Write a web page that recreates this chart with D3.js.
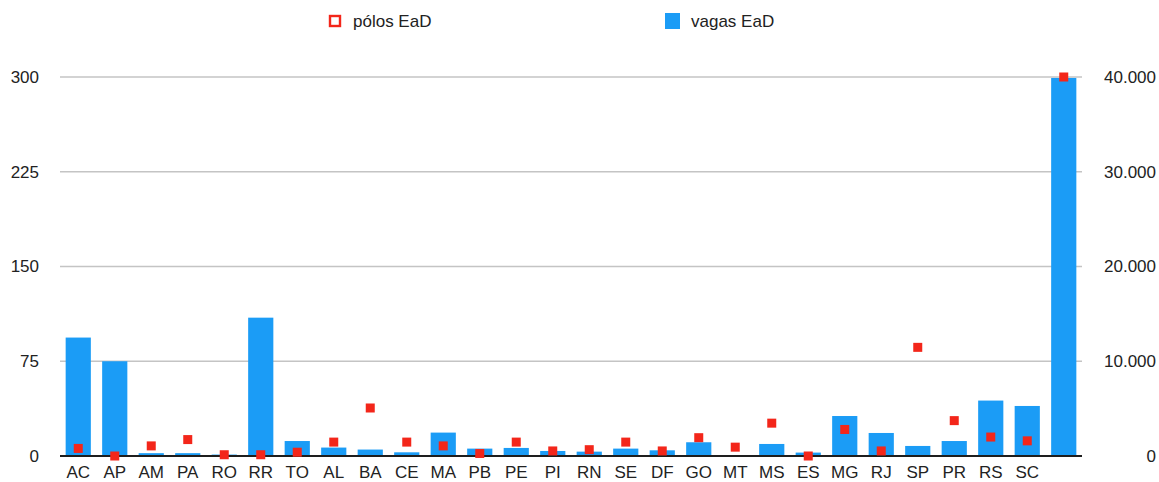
<!DOCTYPE html>
<html>
<head>
<meta charset="utf-8">
<script src="https://cdn.jsdelivr.net/npm/d3@7"></script>
<style>
  html, body { margin: 0; padding: 0; background: #fff; }
  svg { display: block; font-family: "Liberation Sans", Arial, Helvetica, sans-serif; }
</style>
</head>
<body>
<svg id="chart" width="1159" height="482"></svg>
<script>
// Estados (the last column is the national total, unlabelled)
const categories = ["AC","AP","AM","PA","RO","RR","TO","AL","BA","CE","MA","PB","PE","PI","RN","SE","DF","GO","MT","MS","ES","MG","RJ","SP","PR","RS","SC",""];
// vagas EaD (right axis)
const vagas = [12500,10000,300,300,150,14600,1580,890,680,390,2470,780,850,530,460,780,600,1450,0,1270,360,4220,2430,1060,1580,5850,5280,39900];
// pólos EaD (left axis)
const polos = [6,0,8,13,1,1,3,11,38,11,8,2,11,4,5,11,4,14.5,7,26,0,21,4,86,28,15,12,300];
const leftTicks = [0,75,150,225,300];
const rightTicks = [0,10000,20000,30000,40000];

const svg = d3.select("#chart");
const margin = {left: 60, right: 77, top: 77, bottom: 26};
const W = 1159, H = 482;
const x0 = margin.left, x1 = W - margin.right;
const y0 = H - margin.bottom, y1 = margin.top;

const x = d3.scaleBand().domain(d3.range(categories.length)).range([x0, x1]).paddingInner(0.31).paddingOuter(0.155);
const yL = d3.scaleLinear().domain([0, 300]).range([y0, y1]);
const yR = d3.scaleLinear().domain([0, 40000]).range([y0, y1]);

const blue = "#1b9cf6", red = "#f3261a";
const fmt = v => d3.format(",")(v).replace(/,/g, ".");

// gridlines
svg.append("g").selectAll("line").data(leftTicks.filter(t => t > 0)).join("line")
  .attr("x1", x0).attr("x2", x1)
  .attr("y1", d => yL(d)).attr("y2", d => yL(d))
  .attr("stroke", "#c4c4c4").attr("stroke-width", 1.6);

// bars: vagas
svg.append("g").selectAll("rect").data(vagas).join("rect")
  .attr("x", (d, i) => x(i)).attr("width", x.bandwidth())
  .attr("y", d => yR(d)).attr("height", d => y0 - yR(d))
  .attr("fill", blue);

// baseline
svg.append("line").attr("x1", x0).attr("x2", x1).attr("y1", y0).attr("y2", y0)
  .attr("stroke", "#1e1e1e").attr("stroke-width", 2);

// points: pólos
const s = 9;
svg.append("g").selectAll("rect").data(polos).join("rect")
  .attr("x", (d, i) => x(i) + x.bandwidth() / 2 - s / 2)
  .attr("y", d => yL(d) - s / 2)
  .attr("width", s).attr("height", s)
  .attr("fill", red);

// left axis
const axL = d3.axisLeft(yL).tickValues(leftTicks).tickSize(0).tickPadding(0).tickFormat(fmt);
svg.append("g").attr("transform", "translate(39,0)").call(axL)
  .call(g => g.select(".domain").remove())
  .call(g => g.selectAll("text").attr("font-size", 17).attr("fill", "#222").attr("font-family", "Liberation Sans, Arial, sans-serif"));

// right axis
const axR = d3.axisRight(yR).tickValues(rightTicks).tickSize(0).tickPadding(0).tickFormat(fmt);
svg.append("g").attr("transform", "translate(1156,0)").call(axR)
  .call(g => g.select(".domain").remove())
  .call(g => g.selectAll("text").attr("text-anchor", "end").attr("font-size", 17).attr("fill", "#222").attr("font-family", "Liberation Sans, Arial, sans-serif"));

// category labels
const axB = d3.axisBottom(x).tickSize(0).tickPadding(0).tickFormat(i => categories[i]);
svg.append("g").attr("transform", `translate(0,${y0})`).call(axB)
  .call(g => g.select(".domain").remove())
  .call(g => g.selectAll("text").attr("dy", null).attr("y", 22).attr("font-size", 17).attr("fill", "#222").attr("font-family", "Liberation Sans, Arial, sans-serif"));

// legend
const leg = svg.append("g").attr("font-size", 17).attr("fill", "#222");
leg.append("rect").attr("x", 330).attr("y", 16).attr("width", 10).attr("height", 10)
  .attr("fill", "#fff").attr("stroke", red).attr("stroke-width", 2.4);
leg.append("text").attr("x", 353).attr("y", 27).text("pólos EaD");
leg.append("rect").attr("x", 665).attr("y", 13).attr("width", 15).attr("height", 16).attr("fill", blue);
leg.append("text").attr("x", 691).attr("y", 27).text("vagas EaD");
</script>
</body>
</html>
